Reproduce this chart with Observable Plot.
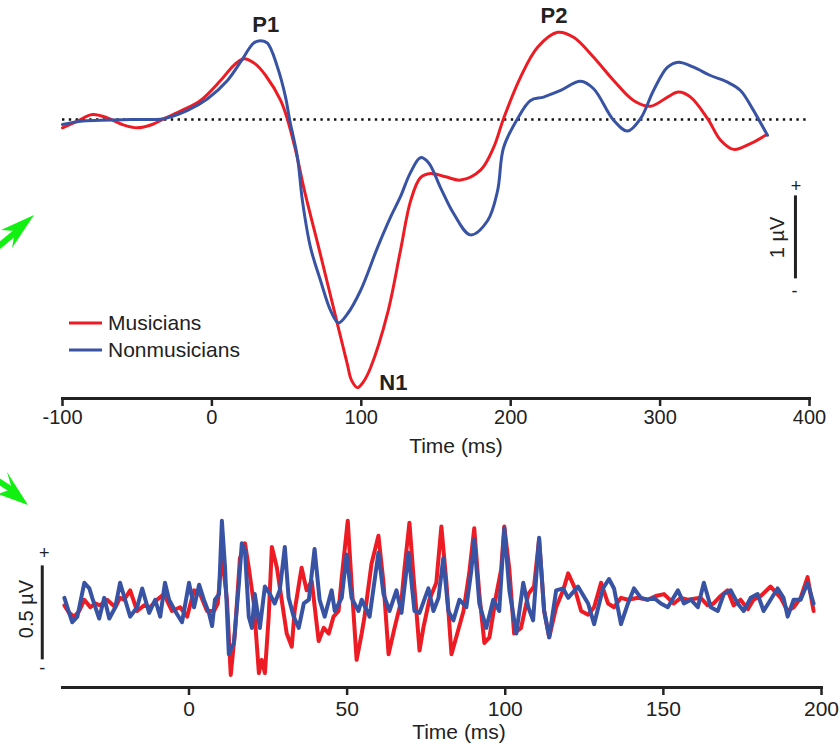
<!DOCTYPE html>
<html>
<head>
<meta charset="utf-8">
<script src="https://cdn.jsdelivr.net/npm/d3@7"></script>
<script src="https://cdn.jsdelivr.net/npm/@observablehq/plot@0.6"></script>
<style>
  html, body { margin: 0; padding: 0; background: #fff; }
  #wrap { position: relative; width: 840px; height: 744px; overflow: hidden; font-family: "Liberation Sans", Arial, sans-serif; color: #222; }
  #top, #bottom { position: absolute; left: 0; }
  #top { top: 0; }
  #bottom { top: 470px; }
  #legend { position: absolute; left: 69px; top: 309px; font-size: 21px; line-height: 27px; }
  #legend .row { display: flex; align-items: center; }
  #legend svg { margin-right: 6px; }
  #arrows { position: absolute; left: 0; top: 0; }
</style>
</head>
<body>
<div id="wrap">
  <div id="top"></div>
  <div id="bottom"></div>
  <div id="legend"></div>
  <svg id="arrows" width="60" height="520"></svg>
</div>
<script>
// ---------- Data ----------
const groups = ["Musicians", "Nonmusicians"];
const groupColors = ["#ed1c24", "#3953a4"];

// Cortical ERP (top panel): time (ms) and amplitude (µV)
const musiciansErpMs = [-100,-90,-80,-70,-60,-50,-40,-32,-20,-7.6,5.8,14.5,21,29,36,46,50.6,56,62,72.7,81.4,90.8,93.4,97.5,101.4,106.2,117.5,126.2,133,139.6,146.3,156.4,166.4,179.8,188.5,195.2,206.6,218,231.4,242.1,255.5,268.9,282.2,293.6,305,312.3,320.4,331.8,340.5,349.2,360.5,370.6];
const musiciansErpUv = [-0.10,-0.02,0.06,0.02,-0.06,-0.10,-0.06,0.01,0.11,0.23,0.47,0.65,0.73,0.67,0.53,0.23,0,-0.37,-0.86,-1.63,-2.27,-2.96,-3.14,-3.23,-3.16,-2.99,-2.34,-1.58,-0.98,-0.70,-0.65,-0.69,-0.73,-0.61,-0.34,0.01,0.51,0.87,1.05,0.99,0.75,0.47,0.23,0.16,0.27,0.33,0.27,0.01,-0.25,-0.36,-0.29,-0.19];
const nonmusiciansErpMs = [-100,-88,-74.5,-54.4,-32.4,-16.3,-2.9,10.4,19.1,27.9,32.5,37.2,43.9,49.3,51.9,57.3,60.6,66,72.7,79.4,84.7,90.8,99.5,110.9,119.5,126.2,132.9,139.6,145.0,153.0,161.7,173.1,184.5,191.2,195.2,204.6,213.3,222,233.4,246.8,255.5,268.9,278.2,286.9,295.6,305,312.3,322.4,333.7,345.1,353.8,362.5,371.9];
const nonmusiciansErpUv = [-0.06,-0.02,-0.01,0,0.01,0.11,0.25,0.47,0.69,0.92,0.95,0.92,0.63,0.27,0.01,-0.46,-0.98,-1.54,-1.94,-2.30,-2.45,-2.34,-2.06,-1.54,-1.18,-0.93,-0.64,-0.46,-0.52,-0.82,-1.13,-1.39,-1.22,-0.86,-0.34,0.01,0.23,0.27,0.35,0.46,0.37,-0.01,-0.14,0.01,0.35,0.63,0.69,0.63,0.53,0.45,0.35,0.11,-0.19];

// Brainstem FFR (bottom panel)
const musiciansFfrMs = [-39.4,-37.9,-36.3,-34.7,-33.1,-31.2,-29.7,-28.1,-25.9,-23.3,-21.8,-20.5,-18.6,-16.4,-14.2,-12.3,-10.1,-7.9,-5.4,-2.8,-0.6,1.6,3.5,5.7,7.9,9.1,10.4,12.0,13.2,14.5,16.1,17.7,18.9,20.5,22.1,23.0,24.0,25.2,26.2,27.8,29.3,30.9,32.5,33.4,35.6,37.2,38.8,41.0,42.6,44.2,45.7,47.3,48.3,50.2,51.4,53.0,54.6,55.5,57.7,59.9,61.5,63.1,65.0,67.2,68.1,69.7,71.0,71.9,72.9,74.1,76.0,78.2,79.8,81.4,83.0,84.5,86.8,88.6,90.2,91.8,93.4,95.0,97.2,98.7,99.7,101.3,102.8,105.0,107.3,109.1,110.7,112.3,113.9,116.1,118.3,119.9,121.8,124.0,126.2,128.1,130.3,132.5,134.4,136.6,138.8,142.0,145.1,147.6,150.2,153.3,155.5,157.7,161.8,164.0,165.9,168.1,170.3,172.2,174.4,176.7,178.5,180.8,183.9,187.1,189.3,191.2,193.4,195.6,197.5];
const musiciansFfrUv = [-0.01,-0.05,-0.07,-0.04,0.02,-0.02,0,-0.01,0.02,-0.02,0.03,0.02,0.07,-0.04,-0.01,-0.02,0.02,0.05,-0.04,-0.02,-0.07,0.07,0.05,-0.04,-0.04,0,0.26,0.02,-0.38,-0.16,0.24,0.32,0.19,0,-0.37,-0.30,-0.37,-0.07,0.30,0.19,0.02,-0.16,-0.23,-0.04,0.19,0.07,0.12,-0.20,-0.13,-0.16,-0.07,-0.04,0.14,0.44,0.11,-0.30,-0.16,-0.07,0.21,0.36,0.11,-0.27,-0.13,0.02,0.18,0.43,0.14,-0.04,-0.25,-0.13,0.02,0.11,0.41,0.11,-0.27,-0.18,-0.04,0.16,0.40,0.05,-0.21,-0.18,0.05,0.18,0.41,0.18,-0.16,-0.13,0.05,0.09,0.34,-0.04,-0.18,-0.02,0.07,0.16,0.09,-0.04,-0.06,-0.02,0.11,0,-0.02,0.03,0.02,0.03,0.02,0.04,0.05,0,0.03,0.02,0.03,-0.01,0,0.04,0.07,-0.01,0.02,-0.03,0.02,0.04,0.09,0.03,-0.04,-0.02,0.03,0.14,-0.04];
const nonmusiciansFfrMs = [-39.4,-37.9,-36.9,-35.3,-33.1,-31.5,-30.6,-28.4,-26.8,-25.2,-23.3,-21.8,-20.2,-18.6,-16.4,-14.8,-12.6,-10.7,-9.1,-7.6,-6.3,-4.4,-2.2,0,1.6,3.2,4.7,6.3,7.3,8.2,9.5,10.4,11.4,12.6,14.2,15.8,16.7,17.7,18.9,19.9,20.8,22.4,24.0,25.6,27.1,28.7,30.3,31.5,33.1,34.7,36.3,37.9,39.7,41.3,42.9,45.1,46.1,48.3,49.8,51.4,53.6,54.6,57.1,59.9,61.5,63.4,65.6,67.2,69.4,71.3,72.9,75.7,77.3,78.9,80.4,82.0,83.6,85.5,87.7,89.3,90.2,91.8,94.0,96.2,98.1,99.7,101.3,103.5,105.7,107.3,108.8,110.7,112.3,113.9,116.1,118.3,119.9,123.0,126.2,128.1,130.9,132.8,134.4,136.6,138.8,140.7,142.9,145.1,147.0,149.2,151.4,154.6,156.5,158.7,160.9,162.8,165.0,167.2,169.1,171.3,173.5,175.4,177.6,179.8,181.7,183.9,186.1,188.0,189.3,191.2,193.4,195.6,197.5];
const nonmusiciansFfrUv = [0.03,-0.05,-0.10,-0.07,0.11,0.08,0.03,-0.08,0.03,-0.08,-0.02,0.11,0.02,-0.07,-0.02,0.08,-0.05,0.02,-0.07,0.11,0.02,-0.04,-0.10,0.11,-0.02,0.10,0.02,-0.05,-0.12,0.02,0.05,0.44,0.19,-0.27,-0.21,0.11,0.32,0.28,-0.07,-0.13,0.05,-0.13,0.09,0.05,0,0.07,0.30,0.03,-0.07,-0.13,0,0.02,0.29,0.02,-0.07,0.07,-0.04,0.03,0.26,0.03,-0.04,0.02,-0.07,0.27,0.05,-0.04,0.07,-0.05,0.27,-0.04,-0.05,0.08,-0.04,0.03,0.24,-0.04,-0.09,0.02,-0.02,0.18,0.34,0,-0.13,0.02,-0.04,0.40,0.07,-0.16,0.11,-0.02,-0.09,0.35,-0.04,-0.18,0.07,0.08,0.03,0.09,0,-0.11,0.08,0.13,0.08,-0.11,0,0.08,0.03,0.02,0.03,0,-0.02,0.07,0,0.02,-0.02,0.11,-0.02,-0.04,0.05,0.07,0,-0.04,0.03,0.05,-0.04,0.02,0.08,0.03,-0.07,0.02,0.02,0.11,0];

const erpTicks = [-100, 0, 100, 200, 300, 400];
const ffrTicks = [0, 50, 100, 150, 200];
const peakNames = ["P1", "P2", "N1"];
const peakMs = [36, 229, 121.5];
const peakUv = [1.14, 1.25, -3.17];

// ---------- Build ----------
const font = '"Liberation Sans", Arial, sans-serif';
const color = {domain: groups, range: groupColors};
const rows = (ms, uv, g) => ms.map((t, i) => ({ms: t, uv: uv[i], group: g}));
const erpRows = [...rows(musiciansErpMs, musiciansErpUv, groups[0]), ...rows(nonmusiciansErpMs, nonmusiciansErpUv, groups[1])];
const ffrRows = [...rows(musiciansFfrMs, musiciansFfrUv, groups[0]), ...rows(nonmusiciansFfrMs, nonmusiciansFfrUv, groups[1])];
const peaks = peakNames.map((n, i) => ({name: n, ms: peakMs[i], uv: peakUv[i]}));
const plain = d => String(d);

const topPlot = Plot.plot({
  width: 840, height: 465,
  marginLeft: 62, marginRight: 31, marginTop: 10, marginBottom: 67,
  x: {domain: [-100, 400]},
  y: {domain: [-3.361, 1.313], axis: null},
  color,
  style: {fontFamily: font, fontSize: "20px", color: "#222", background: "transparent", overflow: "visible"},
  marks: [
    Plot.ruleY([0], {stroke: "#111", strokeWidth: 2.4, strokeDasharray: "2.4,4.4"}),
    Plot.line(erpRows, {x: "ms", y: "uv", z: "group", stroke: "group", curve: "catmull-rom", strokeWidth: 3}),
    Plot.frame({anchor: "bottom", stroke: "#222", strokeWidth: 3}),
    Plot.axisX({ticks: erpTicks, tickFormat: plain, tickSize: 8, strokeWidth: 2.5, tickPadding: 3, fontSize: 20, label: null}),
    Plot.text(["Time (ms)"], {frameAnchor: "bottom", dx: 20, dy: 54, fontSize: 21, fill: "#222"}),
    Plot.text(peaks, {x: "ms", y: "uv", text: "name", fontWeight: "bold", fontSize: 22, fill: "#222"}),
    // 1 µV scale bar
    Plot.ruleX([390.6], {y1: -1.92, y2: -0.92, stroke: "#222", strokeWidth: 3}),
    Plot.text(["+"], {x: 391, y: -0.8, fontSize: 18, fill: "#222"}),
    Plot.text(["-"], {x: 390, y: -2.07, fontSize: 18, fill: "#222"}),
    Plot.text(["1 µV"], {x: 378.5, y: -1.42, rotate: -90, fontSize: 20, fill: "#222"})
  ]
});
document.getElementById("top").appendChild(topPlot);

const bottomPlot = Plot.plot({
  width: 840, height: 274,
  marginLeft: 62, marginRight: 19, marginTop: 20, marginBottom: 57,
  x: {domain: [-40, 200]},
  y: {domain: [-0.447, 0.601], axis: null},
  color,
  style: {fontFamily: font, fontSize: "20px", color: "#222", background: "transparent", overflow: "visible"},
  marks: [
    Plot.line(ffrRows, {x: "ms", y: "uv", z: "group", stroke: "group", strokeWidth: 4, strokeLinejoin: "round"}),
    Plot.frame({anchor: "bottom", stroke: "#222", strokeWidth: 3}),
    Plot.axisX({ticks: ffrTicks, tickFormat: plain, tickSize: 8, strokeWidth: 2.5, tickPadding: 6, fontSize: 21, label: null}),
    Plot.text(["Time (ms)"], {frameAnchor: "bottom", dx: 17, dy: 51, fontSize: 21, fill: "#222"}),
    // 0.5 µV scale bar
    Plot.ruleX([-46.4], {y1: -0.30, y2: 0.20, stroke: "#222", strokeWidth: 3}),
    Plot.text(["+"], {x: -45.8, y: 0.265, fontSize: 18, fill: "#222"}),
    Plot.text(["-"], {x: -46.4, y: -0.345, fontSize: 18, fill: "#222"}),
    Plot.text(["0.5 µV"], {x: -51.3, y: -0.03, rotate: -90, fontSize: 20, fill: "#222"})
  ]
});
document.getElementById("bottom").appendChild(bottomPlot);

// Legend
const legend = document.getElementById("legend");
groups.forEach((g, i) => {
  const row = document.createElement("div");
  row.className = "row";
  row.innerHTML = `<svg width="33" height="6"><line x1="0" x2="33" y1="3" y2="3" stroke="${groupColors[i]}" stroke-width="3"/></svg><span>${g}</span>`;
  legend.appendChild(row);
});

// Green pointer arrows at the left edge
const arrows = document.getElementById("arrows");
arrows.innerHTML = `
  <line x1="-6" y1="250" x2="16" y2="232" stroke="#12f012" stroke-width="6"/>
  <polygon points="34,215 1,230 15,231 12,248" fill="#12f012"/>
  <line x1="-6" y1="478" x2="12" y2="490" stroke="#12f012" stroke-width="6"/>
  <polygon points="28,505 7,472 12,489 -2,494" fill="#12f012"/>
`;
</script>
</body>
</html>
